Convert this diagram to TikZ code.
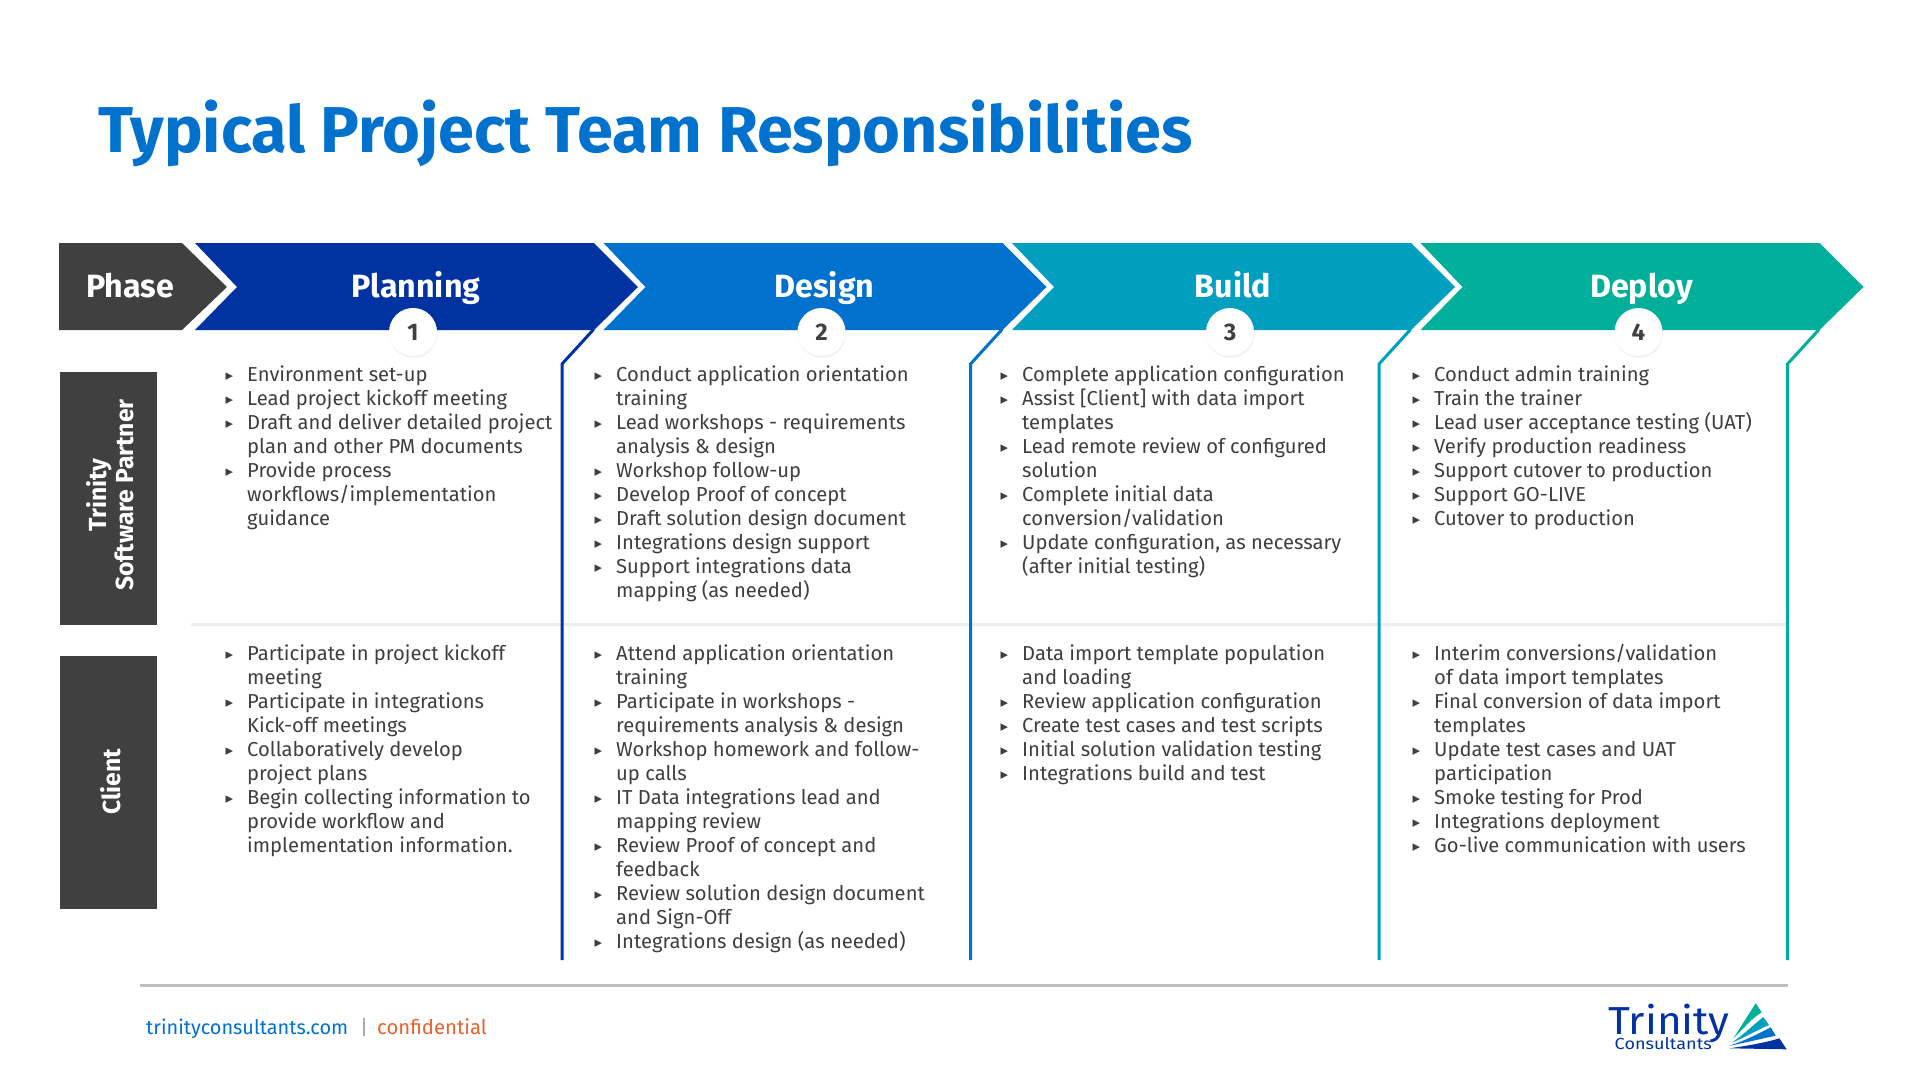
\documentclass[tikz,border=0pt]{standalone}
\usepackage{fontspec}
\setmainfont{Fira Sans}
\newfontfamily\symfont{DejaVu Sans}
\usetikzlibrary{shadows}
\definecolor{planblue}{HTML}{0033A1}
\definecolor{designblue}{HTML}{0072CE}
\definecolor{buildblue}{HTML}{009EBF}
\definecolor{deploygreen}{HTML}{00AF9A}
\definecolor{darkgrey}{HTML}{404040}
\definecolor{textgrey}{HTML}{3F3F3F}
\definecolor{rulegrey}{HTML}{BFBFBF}
\definecolor{orangetxt}{HTML}{E8632B}
\newcommand{\itm}{\llap{\raisebox{1pt}{\symfont\fontsize{15}{15}\selectfont ▸}\hspace{14pt}}}
\tikzset{
	phasetxt/.style={anchor=base, text=white, font=\fontsize{32.2}{36}\selectfont\bfseries, inner sep=0pt},
	badge/.style={circle, fill=white, minimum size=48pt, inner sep=0pt, text=darkgrey, circular drop shadow={shadow xshift=0pt, shadow yshift=-1.5pt, shadow scale=1.04, opacity=0.18}, font=\fontsize{24}{28}\selectfont\bfseries},
	sidebox/.style={fill=darkgrey, minimum width=97pt, minimum height=253pt, inner sep=0pt},
	sidetxt/.style={rotate=90, inner sep=0pt, align=center, text=white, font=\fontsize{24.7}{29}\selectfont\bfseries},
	itemlist/.style={anchor=north west, align=left, inner sep=0pt, text=textgrey, font=\fontsize{20.2}{24}\selectfont},
	footertxt/.style={anchor=base west, inner sep=0pt},
}

\begin{document}
\begin{tikzpicture}[x=1pt, y=-1pt, line join=miter]
	\useasboundingbox (0,0) rectangle (1920,1080);
	\fill[white] (0,0) rectangle (1920,1080);
	\node[anchor=base west, inner sep=0pt, text=designblue, font=\fontsize{64.8}{70}\selectfont\bfseries] (title) at (98,152) {Typical Project Team Responsibilities};
	\draw[line width=3pt, color=black!7] (191,624) -- (1788,624);

	% phase arrow and the four chevrons
	\fill[darkgrey] (59,243) -- (182,243) -- (227,287) -- (182,330) -- (59,330) -- cycle;
	\node[phasetxt] (phase) at (130,297.5) {Phase};
	\foreach \xo/\col/\nme/\num in {0/planblue/Planning/1, 408.5/designblue/Design/2, 817/buildblue/Build/3, 1225.5/deploygreen/Deploy/4}{
		\fill[\col] (195+\xo,243) -- (594+\xo,243) -- (638+\xo,287) -- (594+\xo,330) -- (195+\xo,330) -- (237+\xo,287) -- cycle;
		\draw[\col, line width=3pt] (593.5+\xo,329.5) -- (562+\xo,364) -- (562+\xo,960);
		\node[phasetxt] (head\num) at (416+\xo,297) {\nme};
		\node[badge] (badge\num) at (413+\xo,332) {\num};
	}

	% side labels
	\node[sidebox] (trinity) at (108.5,498.5) {};
	\node[sidebox] (client) at (108.5,782) {};
	\node[sidetxt] (trinitytxt) at (110.5,495) {Trinity\\[-2pt]Software Partner};
	\node[sidetxt] (clienttxt) at (111,782) {Client};

	% trinity row
	\node[itemlist] (tr1) at (247,366) {\itm Environment set-up\\\itm Lead project kickoff meeting\\\itm Draft and deliver detailed project\\plan and other PM documents\\\itm Provide process\\workflows/implementation\\guidance};
	\node[itemlist] (tr2) at (616,366) {\itm Conduct application orientation\\training\\\itm Lead workshops - requirements\\analysis \& design\\\itm Workshop follow-up\\\itm Develop Proof of concept\\\itm Draft solution design document\\\itm Integrations design support\\\itm Support integrations data\\mapping (as needed)};
	\node[itemlist] (tr3) at (1022,366) {\itm Complete application configuration\\\itm Assist [Client] with data import\\templates\\\itm Lead remote review of configured\\solution\\\itm Complete initial data\\conversion/validation\\\itm Update configuration, as necessary\\(after initial testing)};
	\node[itemlist] (tr4) at (1434,366) {\itm Conduct admin training\\\itm Train the trainer\\\itm Lead user acceptance testing (UAT)\\\itm Verify production readiness\\\itm Support cutover to production\\\itm Support GO-LIVE\\\itm Cutover to production};

	% client row
	\node[itemlist] (cl1) at (247,645) {\itm Participate in project kickoff\\meeting\\\itm Participate in integrations\\Kick-off meetings\\\itm Collaboratively develop\\project plans\\\itm Begin collecting information to\\provide workflow and\\implementation information.};
	\node[itemlist] (cl2) at (616,645) {\itm Attend application orientation\\training\\\itm Participate in workshops -\\requirements analysis \& design\\\itm Workshop homework and follow-\\up calls\\\itm IT Data integrations lead and\\mapping review\\\itm Review Proof of concept and\\feedback\\\itm Review solution design document\\and Sign-Off\\\itm Integrations design (as needed)};
	\node[itemlist] (cl3) at (1022,645) {\itm Data import template population\\and loading\\\itm Review application configuration\\\itm Create test cases and test scripts\\\itm Initial solution validation testing\\\itm Integrations build and test};
	\node[itemlist] (cl4) at (1434,644.4) {\itm Interim conversions/validation\\of data import templates\\\itm Final conversion of data import\\templates\\\itm Update test cases and UAT\\participation\\\itm Smoke testing for Prod\\\itm Integrations deployment\\\itm Go-live communication with users};

	% footer
	\draw[rulegrey, line width=3pt] (140,985) -- (1788,985);
	\node[footertxt, text=designblue, font=\fontsize{19.9}{24}\selectfont] (site) at (146,1034) {trinityconsultants.com};
	\node[footertxt, text=rulegrey!80!black, font=\fontsize{20}{24}\selectfont] (sep) at (360,1034) {|};
	\node[footertxt, text=orangetxt, font=\fontsize{20.3}{24}\selectfont] (conf) at (377,1034) {confidential};

	% logo
	\node[anchor=base west, inner sep=0pt, xscale=1.085, text=planblue, font=\fontsize{39}{40}\selectfont] (logotop) at (1608,1034.3) {Trinity};
	\node[anchor=base west, inner sep=0pt, xscale=1.13, text=planblue, font=\fontsize{16}{17}\selectfont] (logosub) at (1614.5,1049.3) {Consultants};
	\fill[deploygreen] (1755.7,1003.3) -- (1761.7,1012.3) .. controls (1752,1018) and (1742,1030) .. (1733.3,1038.3) -- cycle;
	\fill[buildblue] (1763.3,1017) -- (1769,1025) .. controls (1757,1030) and (1744,1038) .. (1731.7,1042.7) .. controls (1742,1036) and (1752,1026) .. (1763.3,1017) -- cycle;
	\fill[designblue] (1770.7,1027.3) -- (1775.7,1035.7) .. controls (1760,1039) and (1744,1043) .. (1729.3,1045.7) .. controls (1744,1041) and (1758,1034) .. (1770.7,1027.3) -- cycle;
	\fill[planblue] (1779.3,1038.3) -- (1786.7,1049.3) -- (1729.3,1048.3) .. controls (1746,1046) and (1764,1043) .. (1779.3,1038.3) -- cycle;
\end{tikzpicture}
\end{document}
